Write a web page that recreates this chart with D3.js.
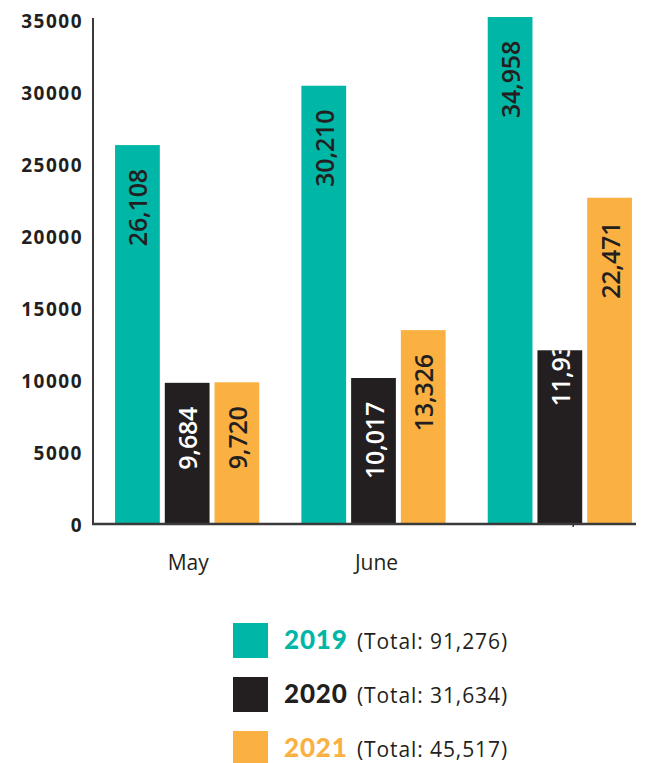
<!DOCTYPE html>
<html>
<head>
<meta charset="utf-8">
<script src="https://cdn.jsdelivr.net/npm/d3@7"></script>
<style>
  body { margin: 0; background: #fff; }
  svg { display: block; font-family: "Open Sans", "Lato", sans-serif; }
</style>
</head>
<body>
<script>
// chart values
var months = ["May", "June", "July"];
var monthLabels = ["May", "June", ""];
var years = ["2019", "2020", "2021"];
var values2019 = [26108, 30210, 34958];
var values2020 = [9684, 10017, 11933];
var values2021 = [9720, 13326, 22471];
var totals = ["91,276", "31,634", "45,517"];
var yTicks = [0, 5000, 10000, 15000, 20000, 25000, 30000, 35000];

var width = 666, height = 763;
var colors = {"2019": "#00b6a7", "2020": "#231f20", "2021": "#fbb042"};
var labelColors = {"2019": "#231f20", "2020": "#fff", "2021": "#231f20"};

var svg = d3.select("body").append("svg")
  .attr("width", width)
  .attr("height", height);

var x0 = d3.scaleBand()
  .domain(months)
  .range([94, 653])
  .paddingInner(0.226)
  .paddingOuter(0.113);

var x1 = d3.scaleBand()
  .domain(years)
  .range([0, x0.bandwidth()])
  .paddingInner(0.1);

var y = d3.scaleLinear()
  .domain([0, 34958])
  .range([523, 17]);

var series = {"2019": values2019, "2020": values2020, "2021": values2021};

var data = [];
months.forEach(function(m, i){
  years.forEach(function(yr){
    data.push({month: m, year: yr, value: series[yr][i]});
  });
});

var defs = svg.append("defs");

var bars = svg.append("g").attr("class", "bars");

var groups = bars.selectAll("g")
  .data(data)
  .enter()
  .append("g")
  .attr("transform", d => "translate(" + (x0(d.month) + x1(d.year)) + ",0)");

groups.each(function(d, i){
  defs.append("clipPath")
    .attr("id", "clip" + i)
    .append("rect")
    .attr("x", 0)
    .attr("y", y(d.value))
    .attr("width", x1.bandwidth())
    .attr("height", y(0) - y(d.value));
});

groups.append("rect")
  .attr("x", 0)
  .attr("y", d => y(d.value))
  .attr("width", x1.bandwidth())
  .attr("height", d => y(0) - y(d.value))
  .style("fill", d => colors[d.year]);

groups.append("g")
  .attr("clip-path", (d, i) => "url(#clip" + i + ")")
  .append("text")
  .attr("transform", function(d){
    // the July 2020 label sits higher in the original and gets cut by its bar
    var off = (d.month == "July" && d.year == "2020") ? 56 : 24;
    return "translate(" + (x1.bandwidth() / 2 + 1) + "," + (y(d.value) + off) + ") rotate(-90)";
  })
  .attr("text-anchor", d => (d.month == "July" && d.year == "2020") ? "start" : "end")
  .attr("dy", "0.36em")
  .style("font-size", "25px")
  .style("font-weight", 600)
  .style("letter-spacing", "-0.2px")
  .style("fill", d => labelColors[d.year])
  .text(d => d3.format(",")(d.value));

// axes
var axisColor = "#3a3a3a";

svg.append("line")
  .attr("x1", 93).attr("x2", 93)
  .attr("y1", 18).attr("y2", 524)
  .style("stroke", axisColor)
  .style("stroke-width", 2);

svg.append("line")
  .attr("x1", 92).attr("x2", 636)
  .attr("y1", 524).attr("y2", 524)
  .style("stroke", axisColor)
  .style("stroke-width", 2.5);

// little stray tick below the July 2020 bar
svg.append("line")
  .attr("x1", x0("July") + x1("2020") + x1.bandwidth() - 9)
  .attr("x2", x0("July") + x1("2020") + x1.bandwidth() - 9)
  .attr("y1", 524).attr("y2", 527)
  .style("stroke", axisColor)
  .style("stroke-width", 1.5);

svg.append("g")
  .selectAll("text")
  .data(yTicks)
  .enter()
  .append("text")
  .attr("x", 83)
  .attr("y", d => y(d) + 2 + 3 * (d / 35000))
  .attr("dy", "0.35em")
  .attr("text-anchor", "end")
  .style("font-size", "19px")
  .style("font-weight", 700)
  .style("letter-spacing", "1.5px")
  .style("fill", "#231f20")
  .text(d => d);

svg.append("g")
  .selectAll("text")
  .data(months)
  .enter()
  .append("text")
  .attr("x", (d, i) => x0(d) + x0.bandwidth() / 2 + (i == 1 ? 3 : 1))
  .attr("y", 563)
  .attr("dy", "0.35em")
  .attr("text-anchor", "middle")
  .style("font-size", "21px")
  .style("fill", "#231f20")
  .text((d, i) => monthLabels[i]);

// legend
var legend = svg.append("g")
  .selectAll("g")
  .data(years)
  .enter()
  .append("g")
  .attr("transform", (d, i) => "translate(233," + (623 + i * 54) + ")");

legend.append("rect")
  .attr("width", 35)
  .attr("height", 35)
  .style("fill", d => colors[d]);

legend.append("text")
  .attr("x", 51)
  .attr("y", 26)
  .style("font-family", "Lato, 'Open Sans', sans-serif")
  .style("font-size", "26px")
  .style("font-weight", 900)
  .style("letter-spacing", "0.8px")
  .style("fill", d => colors[d])
  .text(d => d);

legend.append("text")
  .attr("x", 124)
  .attr("y", 26)
  .style("font-size", "21px")
  .style("letter-spacing", "0.9px")
  .style("fill", "#231f20")
  .text((d, i) => "(Total: " + totals[i] + ")");
</script>
</body>
</html>
